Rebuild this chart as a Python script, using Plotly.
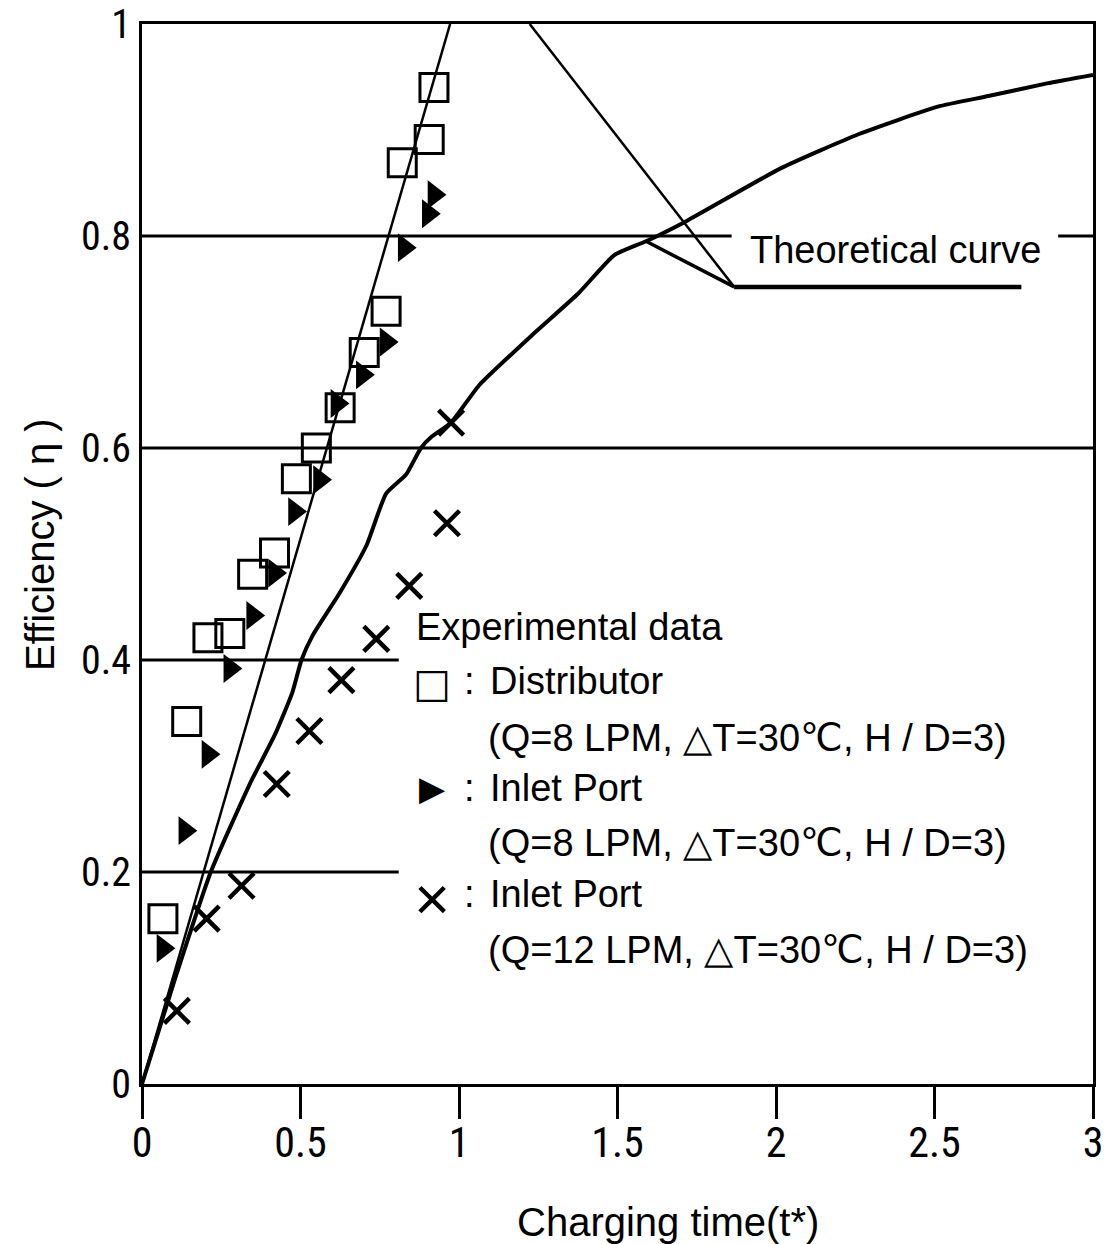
import plotly.graph_objects as go

# ---------------- data ----------------
dist_x = [0.066, 0.141, 0.208, 0.277, 0.349, 0.418, 0.487, 0.550, 0.625, 0.701, 0.770, 0.821, 0.906, 0.921]
dist_y = [0.156, 0.342, 0.421, 0.425, 0.481, 0.501, 0.571, 0.600, 0.638, 0.690, 0.729, 0.869, 0.891, 0.940]

inlet8_x = [0.066, 0.135, 0.208, 0.277, 0.349, 0.418, 0.481, 0.560, 0.615, 0.695, 0.770, 0.827, 0.903, 0.921]
inlet8_y = [0.128, 0.239, 0.311, 0.392, 0.442, 0.482, 0.540, 0.570, 0.642, 0.669, 0.700, 0.789, 0.821, 0.839]

inlet12_x = [0.110, 0.204, 0.314, 0.425, 0.528, 0.629, 0.739, 0.843, 0.962, 0.975]
inlet12_y = [0.069, 0.156, 0.187, 0.283, 0.333, 0.381, 0.420, 0.470, 0.529, 0.624]

theory_line_x = [0.0, 0.972]
theory_line_y = [0.0, 1.0]

theory_curve_x = [0.0, 0.105, 0.217, 0.34, 0.42, 0.475, 0.503, 0.538, 0.623, 0.708, 0.770, 0.833,
                  0.880, 0.915, 0.975, 1.063, 1.236, 1.377, 1.49, 1.59, 1.717, 2.016, 2.26, 2.51,
                  2.67, 2.855, 3.0]
theory_curve_y = [0.0, 0.100, 0.200, 0.283, 0.330, 0.370, 0.400, 0.423, 0.463, 0.508, 0.557, 0.575,
                  0.600, 0.611, 0.624, 0.659, 0.708, 0.746, 0.782, 0.795, 0.814, 0.864, 0.896, 0.922,
                  0.932, 0.944, 0.952]

x_tickvals = [0, 0.5, 1, 1.5, 2, 2.5, 3]
x_ticktext = ["0", "0.5", "1", "1.5", "2", "2.5", "3"]
y_tickvals = [0, 0.2, 0.4, 0.6, 0.8, 1.0]
y_ticktext = ["0", "0.2", "0.4", "0.6", "0.8", "1"]

legend_title = "Experimental data"
legend_names = ["Distributor", "Inlet Port", "Inlet Port"]
legend_conds = ["(Q=8 LPM, △T=30℃, H / D=3)",
                "(Q=8 LPM, △T=30℃, H / D=3)",
                "(Q=12 LPM, △T=30℃, H / D=3)"]
legend_glyphs = ["□", "▶", "×"]

# ---------------- figure ----------------
TXT = "Liberation Sans, Arial, sans-serif"
NARROW = "Liberation Sans Narrow, Arial Narrow, Roboto Condensed, Liberation Sans, sans-serif"

# plot-area geometry (px)
L, R, T, B = 142, 12, 24, 160
FW, FH = 1105, 1244
W, H = float(FW - L - R), float(FH - T - B)
Y0 = FH - B

fig = go.Figure()

fig.add_trace(go.Scatter(x=theory_line_x, y=theory_line_y, mode="lines",
                         line=dict(color="black", width=2.5), showlegend=False, hoverinfo="skip"))
fig.add_trace(go.Scatter(x=theory_curve_x, y=theory_curve_y, mode="lines",
                         line=dict(color="black", width=4, shape="spline", smoothing=0.5),
                         showlegend=False, hoverinfo="skip"))

fig.add_trace(go.Scatter(x=dist_x, y=dist_y, mode="markers", name="Distributor",
                         marker=dict(symbol="square-open", size=28, color="black",
                                     line=dict(width=3, color="black")),
                         showlegend=False))
fig.add_trace(go.Scatter(x=inlet8_x, y=inlet8_y, mode="markers", name="Inlet Port 8 LPM",
                         marker=dict(symbol="triangle-right", size=25, color="black",
                                     line=dict(width=0)),
                         showlegend=False))
fig.add_trace(go.Scatter(x=inlet12_x, y=inlet12_y, mode="markers", name="Inlet Port 12 LPM",
                         marker=dict(symbol="x-thin", size=25, color="black",
                                     line=dict(width=4.5, color="black")),
                         showlegend=False))

shapes = []
def hline(y, x0, x1, w=3):
    shapes.append(dict(type="line", xref="x", yref="y", x0=x0, x1=x1, y0=y, y1=y,
                       line=dict(color="black", width=w), layer="below"))

hline(0.2, 0, 0.81)
hline(0.4, 0, 0.81)
hline(0.6, 0, 3)
hline(0.8, 0, 1.86)
hline(0.8, 2.89, 3)

# leader lines for the "Theoretical curve" label
shapes.append(dict(type="line", xref="x", yref="y", x0=1.223, y0=1.0, x1=1.868, y1=0.752,
                   line=dict(color="black", width=2.5)))
shapes.append(dict(type="line", xref="x", yref="y", x0=1.59, y0=0.795, x1=1.868, y1=0.752,
                   line=dict(color="black", width=3.5)))
shapes.append(dict(type="line", xref="x", yref="y", x0=1.868, y0=0.752, x1=2.774, y1=0.752,
                   line=dict(color="black", width=4.5)))

annotations = []
annotations.append(dict(x=2.377, y=0.787, xref="x", yref="y", text="Theoretical curve",
                        showarrow=False, font=dict(family=TXT, size=38, color="black"),
                        xanchor="center", yanchor="middle"))

# legend block (paper coords)
def px(xp):
    return (xp - L) / W
def py(yp):
    return (Y0 - yp) / H

annotations.append(dict(x=px(414), y=py(627), xref="paper", yref="paper", text=legend_title,
                        showarrow=False, xanchor="left", yanchor="middle",
                        font=dict(family=TXT, size=38, color="black")))
rows = [(681, 738), (788, 843), (894, 950)]
glyph_sizes = [40, 34, 62]
glyph_fonts = ["DejaVu Sans", "DejaVu Sans", "Liberation Sans"]
glyph_dy = [2, 0, 4]
for i, (ya, yb) in enumerate(rows):
    annotations.append(dict(x=px(432), y=py(ya + glyph_dy[i]), xref="paper", yref="paper",
                            text=legend_glyphs[i], showarrow=False, xanchor="center", yanchor="middle",
                            font=dict(family=glyph_fonts[i], size=glyph_sizes[i], color="black")))
    annotations.append(dict(x=px(462), y=py(ya), xref="paper", yref="paper", text=":",
                            showarrow=False, xanchor="left", yanchor="middle",
                            font=dict(family=TXT, size=38, color="black")))
    annotations.append(dict(x=px(488), y=py(ya), xref="paper", yref="paper", text=legend_names[i],
                            showarrow=False, xanchor="left", yanchor="middle",
                            font=dict(family=TXT, size=38, color="black")))
    annotations.append(dict(x=px(486), y=py(yb), xref="paper", yref="paper", text=legend_conds[i],
                            showarrow=False, xanchor="left", yanchor="middle",
                            font=dict(family=TXT, size=38, color="black")))

# axis titles
annotations.append(dict(x=px(668), y=py(1222), xref="paper", yref="paper", text="Charging time(t*)",
                        showarrow=False, xanchor="center", yanchor="middle",
                        font=dict(family=TXT, size=40, color="black")))
annotations.append(dict(x=px(40), y=py(545), xref="paper", yref="paper", text="Efficiency ( η )",
                        showarrow=False, xanchor="center", yanchor="middle", textangle=-90,
                        font=dict(family=TXT, size=40, color="black")))

fig.update_layout(
    width=FW, height=FH,
    margin=dict(l=L, r=R, t=T, b=B, autoexpand=False),
    paper_bgcolor="white", plot_bgcolor="white",
    shapes=shapes, annotations=annotations,
    showlegend=False,
)
fig.update_xaxes(range=[0, 3], tickvals=x_tickvals, ticktext=x_ticktext, automargin=False,
                 showgrid=False, zeroline=False, showline=True, mirror=True,
                 linecolor="black", linewidth=3,
                 ticks="outside", ticklen=32, tickwidth=3, tickcolor="black",
                 ticklabelstandoff=-12, ticklabeloverflow="allow",
                 tickfont=dict(family=NARROW, size=42, color="black"))
fig.update_yaxes(range=[0, 1], tickvals=y_tickvals, ticktext=y_ticktext, automargin=False,
                 showgrid=False, zeroline=False, showline=True, mirror=True,
                 linecolor="black", linewidth=3, ticks="",
                 ticklabelstandoff=0, ticklabeloverflow="allow",
                 tickfont=dict(family=NARROW, size=40, color="black"))

fig.write_html("out.html")
